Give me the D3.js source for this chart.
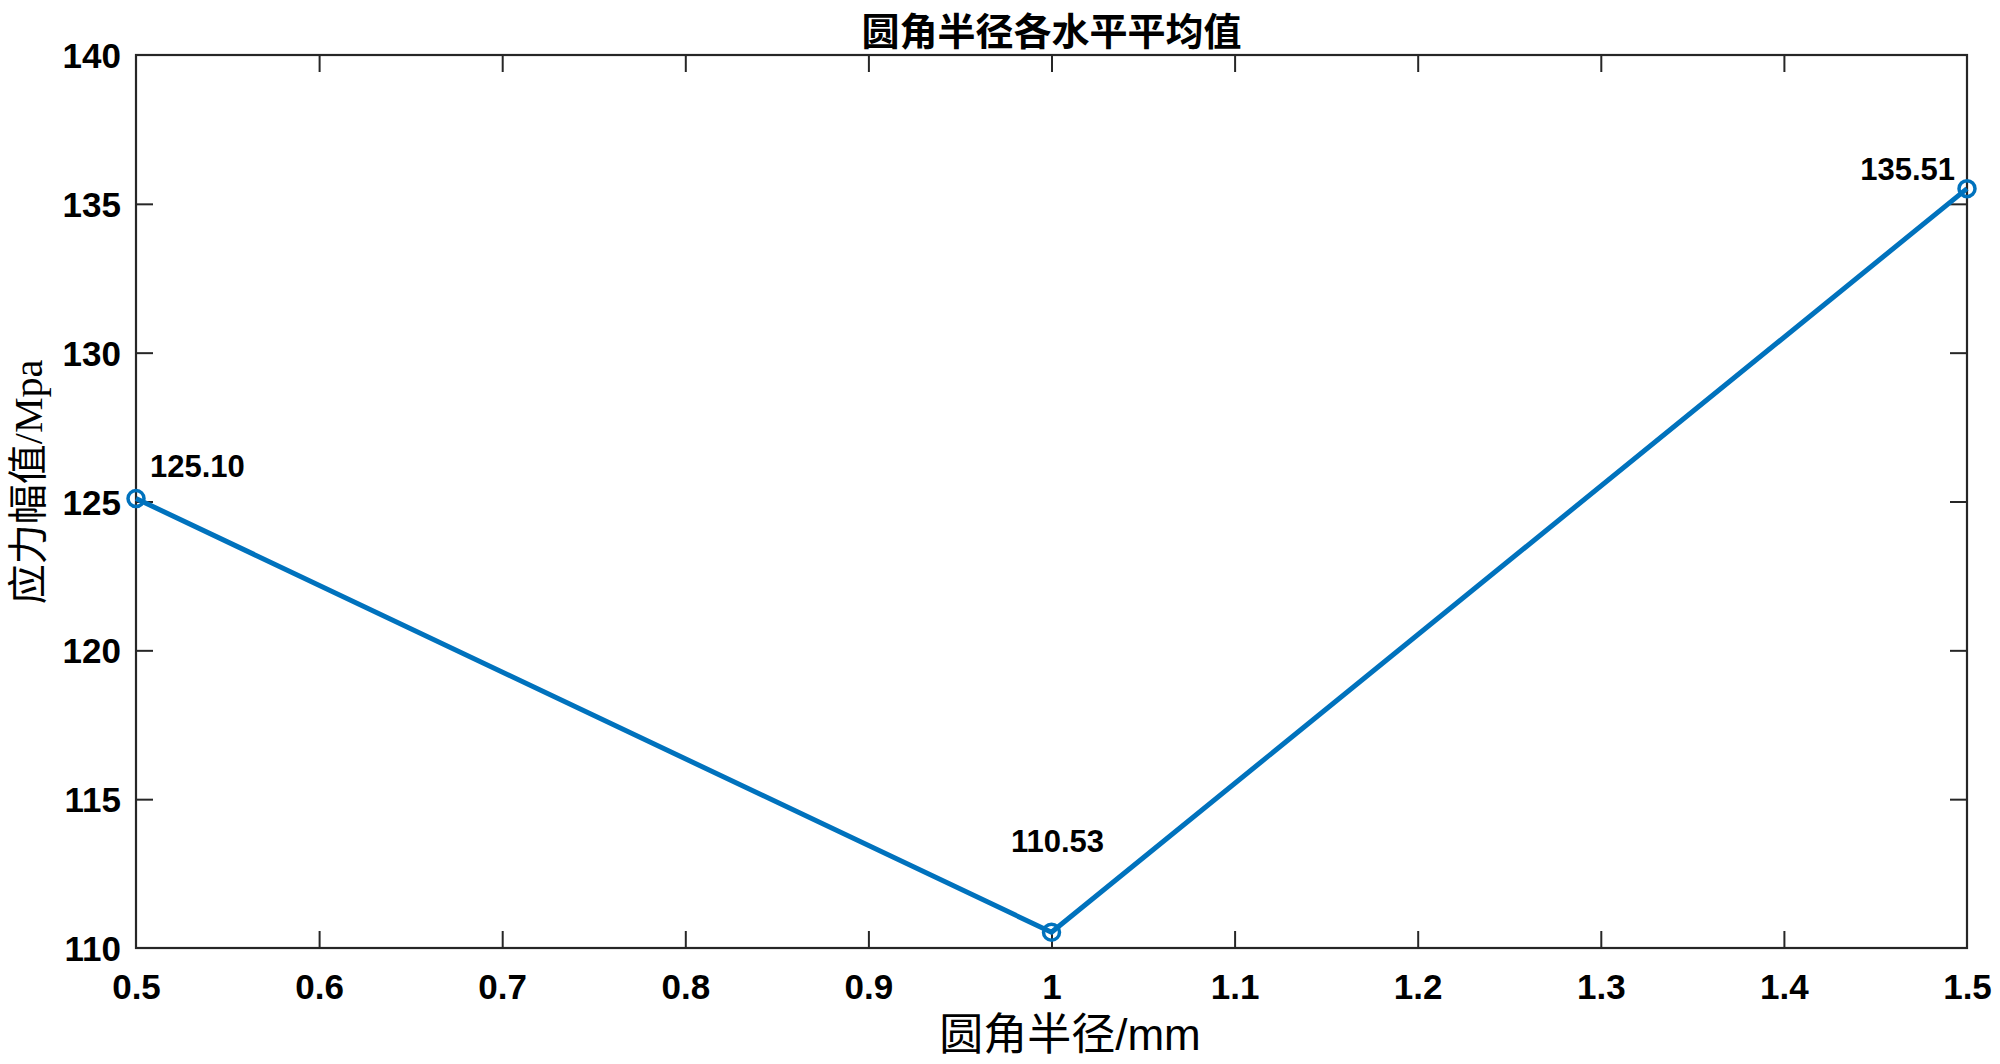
<!DOCTYPE html>
<html>
<head>
<meta charset="utf-8">
<script src="https://cdn.jsdelivr.net/npm/d3@7"></script>
<style>
  html, body { margin: 0; padding: 0; background: #fff; }
  svg { display: block; }
</style>
</head>
<body>
<svg id="chart" width="2000" height="1064"></svg>
<script>
const xValues = [0.5, 1.0, 1.5];
const yValues = [125.10, 110.53, 135.51];
const pointLabels = ["125.10", "110.53", "135.51"];
const xTicks = [0.5, 0.6, 0.7, 0.8, 0.9, 1.0, 1.1, 1.2, 1.3, 1.4, 1.5];
const xTickLabels = ["0.5", "0.6", "0.7", "0.8", "0.9", "1", "1.1", "1.2", "1.3", "1.4", "1.5"];
const yTicks = [110, 115, 120, 125, 130, 135, 140];
const yTickLabels = ["110", "115", "120", "125", "130", "135", "140"];
const titleText = "圆角半径各水平平均值";
const xLabelText = "圆角半径/mm";
const yLabelText = "应力幅值/Mpa";

const svg = d3.select("#chart");
const L = 136, R = 1967, T = 55, B = 948;
const axisColor = "#262626";
const lineColor = "#0072BD";
const tickLen = 17;

const x = d3.scaleLinear().domain([0.5, 1.5]).range([L, R]);
const y = d3.scaleLinear().domain([110, 140]).range([B, T]);

const numFont = "'Liberation Sans', Arial, sans-serif";

const gB = svg.append("g").attr("transform", `translate(0,${B})`)
  .call(d3.axisBottom(x).tickValues(xTicks).tickSize(-tickLen).tickPadding(26)
    .tickFormat((d, i) => xTickLabels[i]));
const gT = svg.append("g").attr("transform", `translate(0,${T})`)
  .call(d3.axisTop(x).tickValues(xTicks).tickSize(-tickLen).tickFormat(""));
const gL = svg.append("g").attr("transform", `translate(${L},0)`)
  .call(d3.axisLeft(y).tickValues(yTicks).tickSize(-tickLen).tickPadding(15)
    .tickFormat((d, i) => yTickLabels[i]));
const gR = svg.append("g").attr("transform", `translate(${R},0)`)
  .call(d3.axisRight(y).tickValues(yTicks).tickSize(-tickLen).tickFormat(""));

[gB, gT, gL, gR].forEach(g => {
  g.select(".domain").remove();
  g.selectAll(".tick line").attr("stroke", axisColor).attr("stroke-width", 2);
  g.selectAll(".tick text").attr("fill", "#000")
    .style("font-family", numFont).style("font-weight", "bold").style("font-size", "35px");
});
svg.append("rect").attr("x", L).attr("y", T).attr("width", R - L).attr("height", B - T)
  .attr("fill", "none").attr("stroke", axisColor).attr("stroke-width", 2.2);

gB.selectAll(".tick text").attr("dy", "0.71em").attr("y", 26);
gL.selectAll(".tick text").attr("dy", "0.36em");
gB.selectAll(".tick line").filter(d => d === 0.5 || d === 1.5).remove();
gT.selectAll(".tick line").filter(d => d === 0.5 || d === 1.5).remove();
gL.selectAll(".tick line").filter(d => d === 110 || d === 140).remove();
gR.selectAll(".tick line").filter(d => d === 110 || d === 140).remove();

const pts = xValues.map((v, i) => [v, yValues[i]]);
svg.append("path")
  .datum(pts)
  .attr("fill", "none")
  .attr("stroke", lineColor)
  .attr("stroke-width", 5)
  .attr("stroke-linejoin", "round")
  .attr("d", d3.line().x(d => x(d[0])).y(d => y(d[1])));

svg.selectAll("circle.pt").data(pts).enter().append("circle")
  .attr("class", "pt")
  .attr("cx", d => x(d[0])).attr("cy", d => y(d[1]))
  .attr("r", 8)
  .attr("fill", "none").attr("stroke", lineColor).attr("stroke-width", 3.5);

const labelOffsets = [
  { dx: 14, dy: -22, anchor: "start" },
  { dx: 6, dy: -80, anchor: "middle" },
  { dx: -12, dy: -9, anchor: "end" }
];
svg.selectAll("text.plabel").data(pts).enter().append("text")
  .attr("class", "plabel")
  .attr("x", (d, i) => x(d[0]) + labelOffsets[i].dx)
  .attr("y", (d, i) => y(d[1]) + labelOffsets[i].dy)
  .attr("text-anchor", (d, i) => labelOffsets[i].anchor)
  .style("font-family", numFont).style("font-weight", "bold").style("font-size", "31px")
  .attr("fill", "#000")
  .text((d, i) => pointLabels[i]);

svg.append("text")
  .attr("x", (L + R) / 2).attr("y", 45)
  .attr("text-anchor", "middle")
  .style("font-family", "'Noto Sans CJK SC', sans-serif")
  .style("font-weight", "bold").style("font-size", "38px")
  .attr("fill", "#000")
  .text(titleText);

svg.append("text")
  .attr("x", 1070).attr("y", 1050)
  .attr("text-anchor", "middle")
  .style("font-family", "'Liberation Sans', 'Noto Sans CJK SC', sans-serif")
  .style("font-size", "44px")
  .attr("fill", "#000")
  .text(xLabelText);

svg.append("text")
  .attr("transform", "translate(42,482) rotate(-90)")
  .attr("text-anchor", "middle")
  .style("font-family", "'Liberation Serif', 'Noto Sans CJK SC', serif")
  .style("font-size", "40px")
  .attr("fill", "#000")
  .text(yLabelText);
</script>
</body>
</html>
